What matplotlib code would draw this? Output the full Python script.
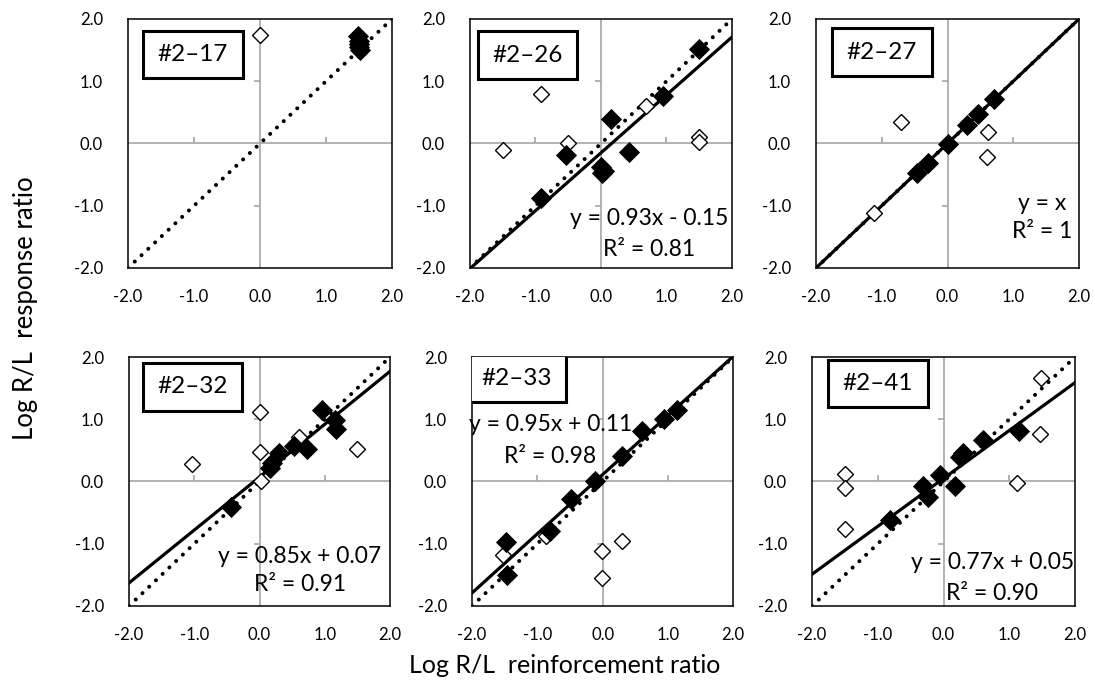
import numpy as np
import matplotlib.pyplot as plt
from matplotlib.patches import Rectangle

plt.rcParams['font.family'] = ['Lato', 'DejaVu Sans']

ticks = [-2.0, -1.0, 0.0, 1.0, 2.0]
names = ['#2–17', '#2–26', '#2–27', '#2–32', '#2–33', '#2–41']

# filled diamonds (x, y) per subject
s17_fx = [1.48, 1.50, 1.50, 1.50, 1.52]
s17_fy = [1.72, 1.65, 1.60, 1.55, 1.50]
s26_fx = [-0.92, -0.53, 0.16, 0.0, 0.04, 0.02, 0.43, 0.94, 1.49]
s26_fy = [-0.88, -0.19, 0.40, -0.37, -0.44, -0.48, -0.13, 0.76, 1.52]
s27_fx = [-0.47, -0.30, 0.0, 0.29, 0.47, 0.71]
s27_fy = [-0.48, -0.31, -0.01, 0.29, 0.47, 0.71]
s32_fx = [-0.44, 0.16, 0.19, 0.30, 0.53, 0.72, 0.96, 1.15, 1.17]
s32_fy = [-0.41, 0.21, 0.29, 0.45, 0.57, 0.53, 1.15, 0.99, 0.85]
s33_fx = [-1.48, -1.47, -0.80, -0.48, -0.11, 0.29, 0.60, 0.94, 1.14]
s33_fy = [-0.97, -1.50, -0.79, -0.28, 0.01, 0.41, 0.81, 1.00, 1.15]
s41_fx = [-0.81, -0.31, -0.23, -0.05, 0.17, 0.25, 0.30, 0.60, 1.14]
s41_fy = [-0.62, -0.08, -0.25, 0.10, -0.07, 0.40, 0.45, 0.67, 0.81]

# open diamonds (x, y) per subject
s17_ox = [0.0]
s17_oy = [1.75]
s26_ox = [-1.50, -0.92, -0.50, 0.68, 1.50, 1.50]
s26_oy = [-0.11, 0.80, 0.01, 0.60, 0.10, 0.02]
s27_ox = [-0.70, -1.12, 0.61, 0.60]
s27_oy = [0.35, -1.11, 0.18, -0.21]
s32_ox = [-1.04, 0.0, 0.0, 0.02, 0.61, 1.50]
s32_oy = [0.28, 1.12, 0.48, 0.0, 0.72, 0.52]
s33_ox = [-1.52, -0.86, -0.01, -0.01, 0.30]
s33_oy = [-1.18, -0.88, -1.12, -1.55, -0.95]
s41_ox = [-1.50, -1.50, -1.50, 1.48, 1.47, 1.11]
s41_oy = [0.12, -0.10, -0.76, 1.67, 0.76, -0.03]

# trend lines (slope, intercept); None = no trend line shown
fits = [None, (0.93, -0.15), (1.0, 0.0), (0.85, 0.07), (0.95, 0.11), (0.77, 0.05)]
eq_text = ['', 'y = 0.93x - 0.15', 'y = x', 'y = 0.85x + 0.07', 'y = 0.95x + 0.11', 'y = 0.77x + 0.05']
r2_text = ['', 'R² = 0.81', 'R² = 1', 'R² = 0.91', 'R² = 0.98', 'R² = 0.90']

filled = [(s17_fx, s17_fy), (s26_fx, s26_fy), (s27_fx, s27_fy),
          (s32_fx, s32_fy), (s33_fx, s33_fy), (s41_fx, s41_fy)]
opened = [(s17_ox, s17_oy), (s26_ox, s26_oy), (s27_ox, s27_oy),
          (s32_ox, s32_oy), (s33_ox, s33_oy), (s41_ox, s41_oy)]

# layout (figure fractions) and text placement (axes fractions)
rects = [[0.1169, 0.6105, 0.2411, 0.3619], [0.4292, 0.6105, 0.2393, 0.3619], [0.7452, 0.6105, 0.2402, 0.3619],
         [0.1178, 0.1192, 0.2384, 0.3619], [0.4311, 0.1192, 0.2384, 0.3619], [0.7416, 0.1192, 0.2402, 0.3619]]
box_pos = [(0.245, 0.857), (0.22, 0.855), (0.25, 0.867), (0.243, 0.88), (0.169, 0.914), (0.25, 0.894)]
eq_pos = [None, (0.683, 0.20, 0.075), (0.86, 0.26, 0.145), (0.655, 0.20, 0.085),
          (0.30, 0.727, 0.60), (0.685, 0.173, 0.052)]

fig = plt.figure(figsize=(10.95, 6.88), dpi=100)
grey = '#a6a6a6'
line_x = np.array([-2.0, 2.0])

for i in range(6):
    ax = fig.add_axes(rects[i])
    ax.set_xlim(-2, 2)
    ax.set_ylim(-2, 2)
    for sp in ax.spines.values():
        sp.set_color('black')
        sp.set_linewidth(1.1)
    ax.set_xticks(ticks)
    ax.set_yticks(ticks)
    ax.set_xticklabels([f'{t:.1f}' for t in ticks])
    ax.set_yticklabels([f'{t:.1f}' for t in ticks])
    ax.tick_params(length=0, labelsize=12)
    ax.tick_params(axis='y', pad=18)
    ax.tick_params(axis='x', pad=15)

    # crossing axes at zero with small ticks
    ax.axhline(0, color=grey, lw=1.2, zorder=1)
    ax.axvline(0, color=grey, lw=1.2, zorder=1)
    ax.plot([0, 0], [-1, 1], ls='none', marker=0, ms=4, mew=1.2, color=grey, zorder=1)
    ax.plot([-1, 1], [0, 0], ls='none', marker=2, ms=4, mew=1.2, color=grey, zorder=1)

    # identity line
    ax.plot(line_x, line_x, color='black', lw=2.9, ls=(0, (0.01, 2.3)),
            dash_capstyle='round', zorder=2)
    if fits[i] is not None:
        m, b = fits[i]
        ax.plot(line_x, m * line_x + b, color='black', lw=2.3, zorder=3)

    ox, oy = opened[i]
    ax.plot(ox, oy, ls='none', marker='D', ms=8.5, mfc='white', mec='black', mew=1.0, zorder=4)
    fx, fy = filled[i]
    ax.plot(fx, fy, ls='none', marker='D', ms=10, mfc='black', mec='black', mew=0.6, zorder=5)

    # subject label box
    bx, by = box_pos[i]
    ax.add_patch(Rectangle((bx - 0.19, by - 0.095), 0.38, 0.19, transform=ax.transAxes,
                           facecolor='white', edgecolor='black', lw=2.2, zorder=6))
    ax.text(bx, by, names[i], transform=ax.transAxes, ha='center', va='center',
            fontsize=17.5, zorder=7)

    if eq_pos[i] is not None:
        ex, ey1, ey2 = eq_pos[i]
        ax.text(ex, ey1, eq_text[i], transform=ax.transAxes, ha='center', va='center',
                fontsize=16.5, zorder=7)
        ax.text(ex, ey2, r2_text[i], transform=ax.transAxes, ha='center', va='center',
                fontsize=16.5, zorder=7)

fig.text(0.023, 0.552, 'Log R/L  response ratio', rotation=90, ha='center', va='center', fontsize=18.5)
fig.text(0.516, 0.033, 'Log R/L  reinforcement ratio', ha='center', va='center', fontsize=18)

fig.savefig('out.png', dpi=100)
